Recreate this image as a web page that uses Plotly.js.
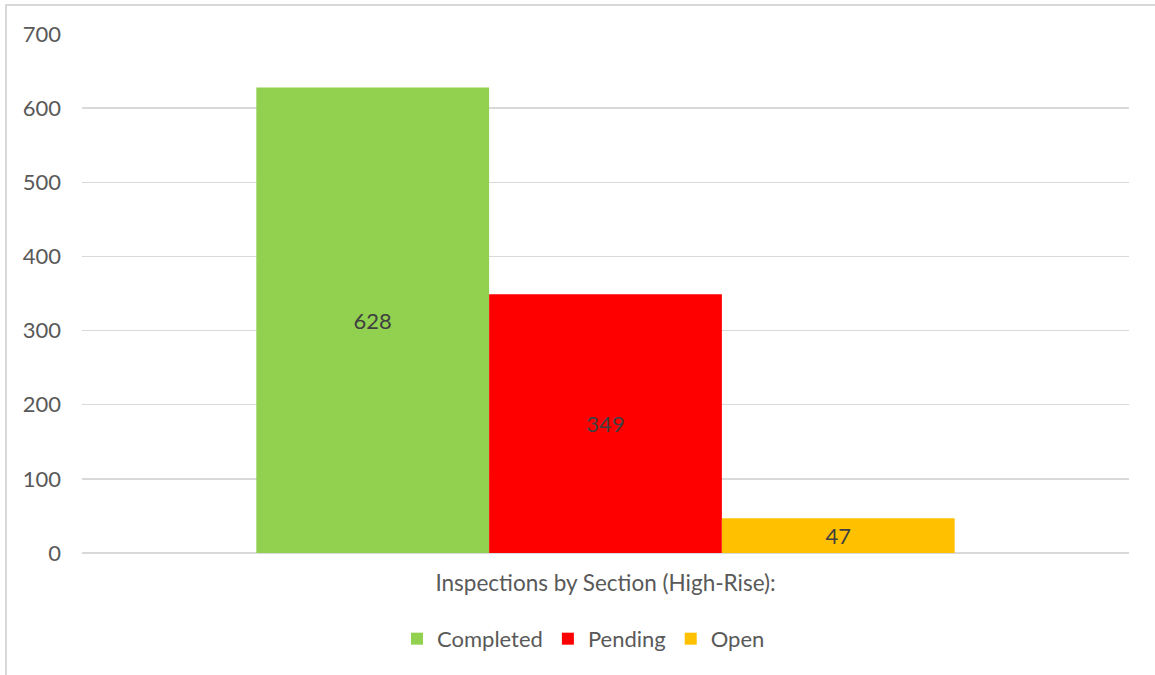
<!DOCTYPE html>
<html><head><meta charset="utf-8">
<script src="https://cdn.plot.ly/plotly-3.0.1.min.js"></script>
<style>
html,body{margin:0;padding:0;background:#fff;}
#chart{width:1155px;height:675px;position:absolute;left:0;top:0;}
#frame{position:absolute;left:5px;top:4px;width:1200px;height:720px;border-left:2px solid #d9d9d9;border-top:2px solid #d9d9d9;pointer-events:none;}
</style></head>
<body>
<div id="chart"></div>
<div id="frame"></div>
<script>
const categories = ["Inspections by Section (High-Rise):"];
const seriesNames = ["Completed", "Pending", "Open"];
const completed = [628];
const pending = [349];
const open = [47];
const colors = ["#92d050", "#ff0000", "#ffc000"];
const values = [completed, pending, open];
const font = "Lato";

const traces = seriesNames.map((n, i) => ({
  type: 'bar', name: n, x: categories, y: values[i],
  marker: {color: colors[i], line: {width: 0}},
  text: values[i].map(String), textposition: 'inside', insidetextanchor: 'middle',
  textfont: {family: font, size: 22, color: '#404040'}, textangle: 0,
  hoverinfo: 'none'
}));

Plotly.newPlot('chart', traces, {
  width: 1155, height: 675,
  margin: {l: 82, r: 26, t: 34, b: 122},
  paper_bgcolor: '#fff', plot_bgcolor: '#fff',
  barmode: 'group', bargap: 0.333, bargroupgap: 0,
  font: {family: font, color: '#595959', size: 22},
  xaxis: {showgrid: false, showline: false, zeroline: false, ticks: '',
          tickfont: {size: 22.5, color: '#595959'}, ticklabelstandoff: 14},
  yaxis: {range: [0, 700], dtick: 100, showgrid: true, gridcolor: '#d9d9d9', gridwidth: 1.5,
          zeroline: true, zerolinecolor: '#d9d9d9', zerolinewidth: 1.5, showline: false,
          tickfont: {size: 22, color: '#595959'}, ticklabelstandoff: 20},
  showlegend: true,
  legend: {orientation: 'h', x: 0.479, xanchor: 'center', y: -0.125, yanchor: 'top',
           font: {size: 22, color: '#595959'}, itemwidth: 30, traceorder: 'normal'}
}, {displayModeBar: false, staticPlot: true});
</script>
</body></html>
